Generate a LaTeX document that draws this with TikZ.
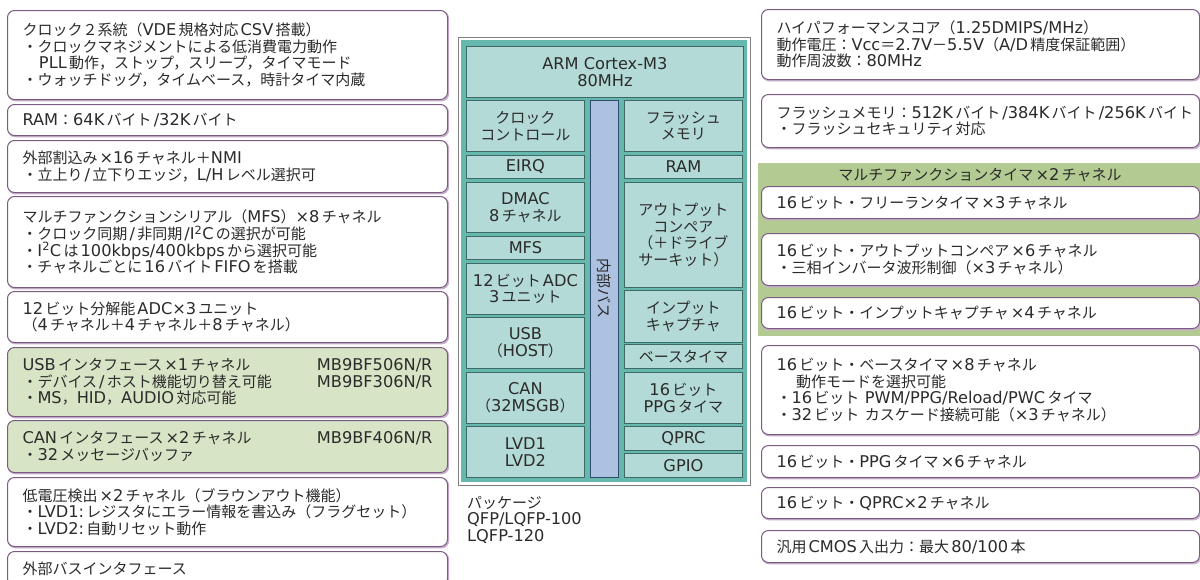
\documentclass[tikz,border=0pt]{standalone}
\usepackage{fontspec}
\setmainfont{DejaVu Sans}[Scale=1.08]
\newfontfamily\jafont{Noto Sans CJK JP}
% switch to the Japanese font for kana, kanji and full-width forms
\XeTeXinterchartokenstate=1
\newXeTeXintercharclass\jaclass
\newXeTeXintercharclass\jpclass
\newcount\jachar
\newcommand\setjarange[3]{\jachar=#1\relax
  \loop\XeTeXcharclass\jachar=#3\ifnum\jachar<#2\advance\jachar by 1\repeat}
\setjarange{"3040}{"30FF}{\jaclass}
\setjarange{"4E00}{"9FFF}{\jaclass}
\setjarange{"3000}{"303F}{\jpclass}
\setjarange{"FF00}{"FFEF}{\jpclass}
\XeTeXcharclass"30FB=\jpclass
\newcommand\jagap{\nobreak\hskip0.14em\relax}
\XeTeXinterchartoks 0 \jaclass = {\jagap\jafont}
\XeTeXinterchartoks \jaclass 0 = {\jagap\rmfamily}
\XeTeXinterchartoks 0 \jpclass = {\jafont}
\XeTeXinterchartoks \jpclass 0 = {\rmfamily}
\XeTeXinterchartoks 4095 \jaclass = {\jafont}
\XeTeXinterchartoks 4095 \jpclass = {\jafont}
\XeTeXinterchartoks 4095 0 = {\rmfamily}
\definecolor{boxline}{HTML}{7A5C80}
\definecolor{boxshade}{HTML}{C9AED0}
\definecolor{mftgreen}{HTML}{B3CB92}
\definecolor{usbgreen}{HTML}{D8E4C6}
\definecolor{chipteal}{HTML}{66B8AE}
\definecolor{blockfill}{HTML}{B3DAD6}
\definecolor{blockline}{HTML}{3E6A66}
\definecolor{busfill}{HTML}{ADC1E0}
\definecolor{busline}{HTML}{2E4C6E}
\definecolor{txt}{HTML}{2B2B2B}
\newcommand\fsbox{\fontsize{15}{16.6}\selectfont}
\tikzset{
  infobox/.style={draw=boxline, line width=1pt, rounded corners=7pt, fill=white,
    anchor=north west, align=left, inner xsep=15pt, inner ysep=0pt, text=txt, font=\fsbox,
    preaction={draw=boxshade, line width=1.6pt, transform canvas={shift={(0.9pt,-1.1pt)}}}},
  lbox/.style={infobox, text width=410pt},
  rbox/.style={infobox, text width=408pt},
  greenbox/.style={lbox, fill=usbgreen},
  block/.style={draw=blockline, line width=0.8pt, fill=blockfill, anchor=north west,
    align=center, inner sep=0pt, text=txt, font=\fsbox, minimum width=118pt}
}
\begin{document}
\begin{tikzpicture}[x=1pt, y=-1pt]
  \useasboundingbox (0,0) rectangle (1200,579);

  % left column
  \node[lbox, minimum height=89pt] (clk) at (7,10) {クロック２系統（VDE規格対応CSV搭載）\\・クロックマネジメントによる低消費電力動作\\\hspace*{1.1em}PLL動作，ストップ，スリープ，タイマモード\\・ウォッチドッグ，タイムベース，時計タイマ内蔵};
  \node[lbox, minimum height=31pt] (ram) at (7,104) {RAM：64Kバイト/32Kバイト};
  \node[lbox, minimum height=52pt] (eirq) at (7,140) {外部割込み×16チャネル＋NMI\\・立上り/立下りエッジ，L/Hレベル選択可};
  \node[lbox, minimum height=91pt] (mfs) at (7,196) {マルチファンクションシリアル（MFS）×8チャネル\\・クロック同期/非同期/I\textsuperscript{2}Cの選択が可能\\・I\textsuperscript{2}Cは100kbps/400kbpsから選択可能\\・チャネルごとに16バイトFIFOを搭載};
  \node[lbox, minimum height=51pt] (adc) at (7,291) {12ビット分解能ADC×3ユニット\\（4チャネル＋4チャネル＋8チャネル）};
  \node[greenbox, minimum height=69pt] (usb) at (7,347) {USBインタフェース×1チャネル\hfill MB9BF506N/R\\・デバイス/ホスト機能切り替え可能\hfill MB9BF306N/R\\・MS，HID，AUDIO対応可能};
  \node[greenbox, minimum height=52pt] (can) at (7,420) {CANインタフェース×2チャネル\hfill MB9BF406N/R\\・32メッセージバッファ};
  \node[lbox, minimum height=69pt] (lvd) at (7,477) {低電圧検出×2チャネル（ブラウンアウト機能）\\・LVD1:レジスタにエラー情報を書込み（フラグセット）\\・LVD2:自動リセット動作};
  \node[lbox, minimum height=34pt] (extbus) at (7,551) {外部バスインタフェース};

  % chip
  \draw[gray, line width=0.8pt, fill=white] (458,37) rectangle (750,485);
  \fill[chipteal] (461,40) rectangle (747,482);
  \node[block, minimum width=277pt, minimum height=51pt] (cpu) at (466,46) {ARM Cortex-M3\\80MHz};
  \node[draw=busline, line width=0.8pt, fill=busfill, anchor=north west, minimum width=28pt, minimum height=377pt, inner sep=0pt] (bus) at (590,100) {};
  \node[rotate=-90, font=\fsbox, text=txt] (buslabel) at (bus.center) {内部バス};
  % chip, left blocks
  \node[block, minimum height=51pt] (bclk) at (466,100) {クロック\\コントロール};
  \node[block, minimum height=23pt] (beirq) at (466,155) {EIRQ};
  \node[block, minimum height=50pt] (bdmac) at (466,182) {DMAC\\8チャネル};
  \node[block, minimum height=23pt] (bmfs) at (466,236) {MFS};
  \node[block, minimum height=51pt] (badc) at (466,263) {12ビットADC\\3ユニット};
  \node[block, minimum height=51pt] (busb) at (466,317) {USB\\（HOST）};
  \node[block, minimum height=51pt] (bcan) at (466,372) {CAN\\（32MSGB）};
  \node[block, minimum height=51pt] (blvd) at (466,426) {LVD1\\LVD2};
  % chip, right blocks
  \node[block, minimum height=51pt] (bflash) at (624,100) {フラッシュ\\メモリ};
  \node[block, minimum height=23pt] (bram) at (624,155) {RAM};
  \node[block, minimum height=105pt] (boc) at (624,182) {アウトプット\\コンペア\\（＋ドライブ\\サーキット）};
  \node[block, minimum height=52pt] (bic) at (624,290) {インプット\\キャプチャ};
  \node[block, minimum height=24pt] (bbt) at (624,344) {ベースタイマ};
  \node[block, minimum height=51pt] (bppg) at (624,372) {16ビット\\PPGタイマ};
  \node[block, minimum height=24pt] (bqprc) at (624,426) {QPRC};
  \node[block, minimum height=24pt] (bgpio) at (624,453) {GPIO};
  \node[anchor=north west, align=left, inner sep=0pt, font=\fsbox, text=txt] (pkg) at (467,496) {パッケージ\\QFP/LQFP-100\\LQFP-120};

  % right column
  \node[rbox, minimum height=70pt] (core) at (761,9) {ハイパフォーマンスコア（1.25DMIPS/MHz）\\動作電圧：Vcc＝2.7V－5.5V（A/D精度保証範囲）\\動作周波数：80MHz};
  \node[rbox, minimum height=53pt] (flash) at (761,94) {フラッシュメモリ：512Kバイト/384Kバイト/256Kバイト\\・フラッシュセキュリティ対応};
  % multifunction timer group
  \fill[mftgreen] (758,163) rectangle (1200,336);
  \node[font=\fsbox, text=txt] (mft) at (980,175) {マルチファンクションタイマ×2チャネル};
  \node[rbox, minimum height=32pt] (frt) at (761,186) {16ビット・フリーランタイマ×3チャネル};
  \node[rbox, minimum height=52pt] (ocu) at (761,233) {16ビット・アウトプットコンペア×6チャネル\\・三相インバータ波形制御（×3チャネル）};
  \node[rbox, minimum height=31pt] (icu) at (761,297) {16ビット・インプットキャプチャ×4チャネル};
  \node[rbox, minimum height=89pt] (bt) at (761,345) {16ビット・ベースタイマ×8チャネル\\\hspace*{1.3em}動作モードを選択可能\\・16ビット PWM/PPG/Reload/PWCタイマ\\・32ビット カスケード接続可能（×3チャネル）};
  \node[rbox, minimum height=32pt] (ppg) at (761,445) {16ビット・PPGタイマ×6チャネル};
  \node[rbox, minimum height=31pt] (qprc) at (761,487) {16ビット・QPRC×2チャネル};
  \node[rbox, minimum height=32pt] (gpio) at (761,530) {汎用CMOS入出力：最大80/100本};
\end{tikzpicture}
\end{document}
